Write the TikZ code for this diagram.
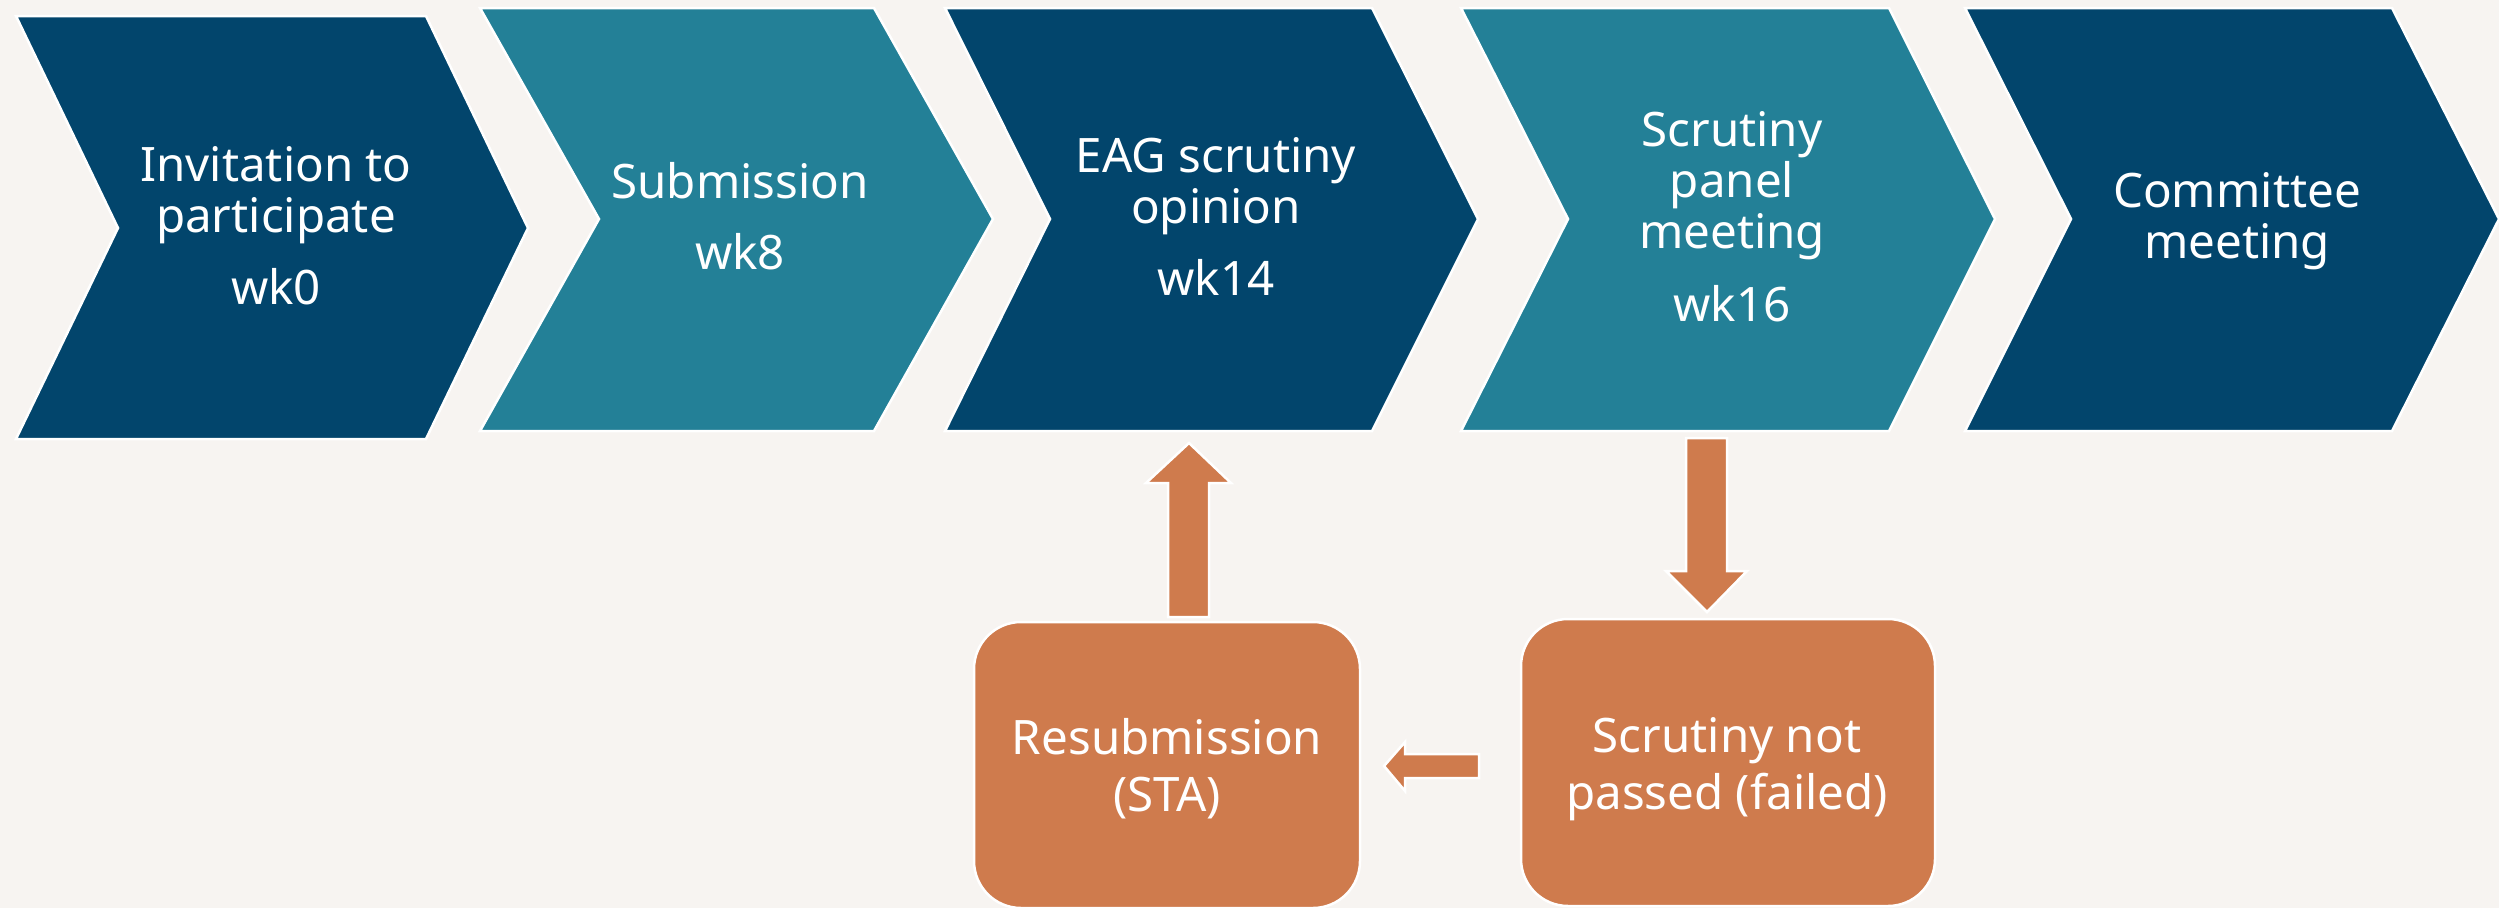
\documentclass[tikz,border=0pt]{standalone}
\usepackage{fontspec}
\setmainfont{Noto Sans}
\definecolor{bgc}{HTML}{F7F4F1}
\definecolor{navy}{HTML}{02456C}
\definecolor{teal}{HTML}{238097}
\definecolor{orng}{HTML}{CF7B4D}
\newcommand{\chevtext}[1]{\fontsize{47.5}{51}\selectfont\begin{tabular}[t]{@{}c@{}}#1\end{tabular}}
\newcommand{\boxtext}[1]{\fontsize{47.5}{57}\selectfont\begin{tabular}[t]{@{}c@{}}#1\end{tabular}}
\begin{document}
\begin{tikzpicture}[x=1pt,y=-1pt,
  chev/.style={draw=white,line width=2.5pt,line join=miter},
  lbl/.style={anchor=base,inner sep=0pt,text=white},
  obox/.style={draw=white,line width=2.5pt,fill=orng,rounded corners=47pt,inner sep=0pt},
  barrow/.style={draw=white,line width=2.5pt,fill=orng,line join=miter}]
\fill[bgc] (0,0) rectangle (2499,908);
\useasboundingbox (0,0) rectangle (2499,908);
% chevrons
\draw[chev,fill=navy] (16,16) -- (426,16) -- (528,228) -- (426,439) -- (16,439) -- (118,228) -- cycle;
\draw[chev,fill=teal] (480,8) -- (874,8) -- (993,219) -- (874,431) -- (480,431) -- (599,219) -- cycle;
\draw[chev,fill=navy] (945,8) -- (1372,8) -- (1478,219) -- (1372,431) -- (945,431) -- (1050,219) -- cycle;
\draw[chev,fill=teal] (1461,8) -- (1889,8) -- (1995,219) -- (1889,431) -- (1461,431) -- (1568,219) -- cycle;
\draw[chev,fill=navy] (1965,8) -- (2392,8) -- (2499,219) -- (2392,431) -- (1965,431) -- (2071,219) -- cycle;
% chevron labels
\node[lbl] (inv) at (276,181) {\chevtext{Invitation to\\participate\\[21pt]wk0}};
\node[lbl] (sub) at (740,198) {\chevtext{Submission\\[20pt]wk8}};
\node[lbl] (eag) at (1216,172) {\chevtext{EAG scrutiny\\opinion\\[21pt]wk14}};
\node[lbl] (pan) at (1732,146) {\chevtext{Scrutiny\\panel\\meeting\\[22pt]wk16}};
\node[lbl] (com) at (2237,207) {\chevtext{Committee\\meeting}};
% orange boxes
\node[obox,minimum width=386pt,minimum height=286pt] (resub) at (1167,765) {};
\node[obox,minimum width=414pt,minimum height=287pt] (fail) at (1728,762.5) {};
\node[lbl] (resubt) at (1167,754) {\boxtext{Resubmission\\(STA)}};
\node[lbl] (failt) at (1727,752) {\boxtext{Scrutiny not\\passed (failed)}};
% block arrows
\draw[barrow] (1168,617) -- (1168,483) -- (1146,483) -- (1189,443) -- (1231,483) -- (1209,483) -- (1209,617) -- cycle;
\draw[barrow] (1686,438) -- (1727,438) -- (1727,571) -- (1747,571) -- (1707,612) -- (1666,571) -- (1686,571) -- cycle;
\draw[barrow] (1479,754) -- (1405,754) -- (1405,742) -- (1384,766) -- (1405,791) -- (1405,778) -- (1479,778) -- cycle;
\end{tikzpicture}
\end{document}
